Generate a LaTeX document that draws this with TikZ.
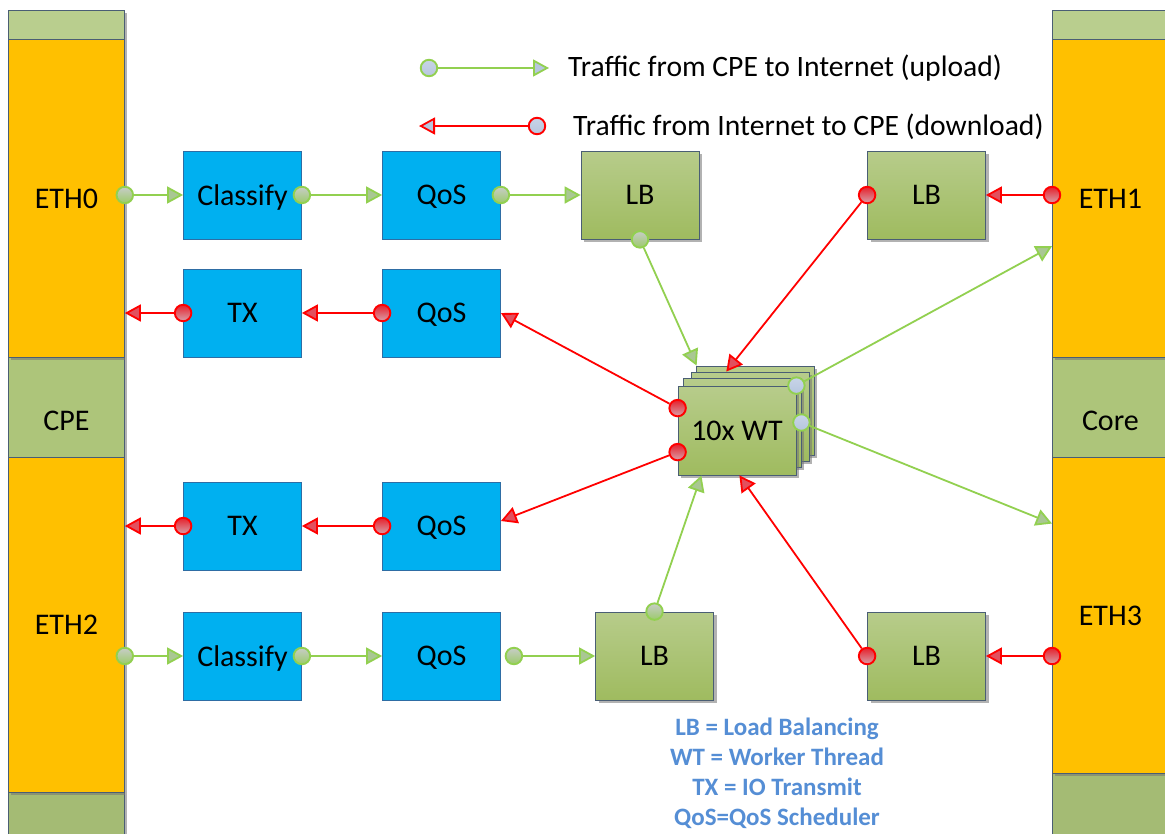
\documentclass[tikz,border=0pt]{standalone}
\usepackage{fontspec}
\setmainfont{Carlito}
\usetikzlibrary{arrows.meta,shadows,calc}

\definecolor{ethorange}{HTML}{FFC000}
\definecolor{colgreen}{HTML}{ADC57A}
\definecolor{boxedge}{HTML}{4A5E74}
\definecolor{procblue}{HTML}{00B0F0}
\definecolor{procedge}{HTML}{2E6DA4}
\definecolor{upgreen}{HTML}{92D050}
\definecolor{uptip}{HTML}{A9C793}
\definecolor{dntip}{HTML}{E2505E}
\definecolor{dotblue}{HTML}{B6C6DE}
\definecolor{notecol}{HTML}{558ED5}

\tikzset{
  shade/.style={drop shadow={shadow xshift=3pt,shadow yshift=-3pt,fill=black!55,opacity=0.55}},
  colbox/.style={draw=boxedge,line width=0.8pt,inner sep=0,anchor=north west,
    minimum width=116pt,font=\fontsize{30}{32}\selectfont,shade},
  procbox/.style={draw=procedge,line width=0.8pt,fill=procblue,inner sep=0,text depth=0pt,
    minimum width=118pt,minimum height=88pt,font=\fontsize{30}{32}\selectfont},
  lbbox/.style={draw=boxedge,line width=0.8pt,inner sep=0,text depth=0pt,
    top color={rgb,255:red,183;green,204;blue,139},bottom color={rgb,255:red,159;green,187;blue,95},
    minimum width=118pt,minimum height=88pt,font=\fontsize{30}{32}\selectfont,shade},
  updot/.style={circle,inner sep=0,minimum size=16.5pt,line width=1.9pt,draw=upgreen,
    top color={rgb,255:red,200;green,204;blue,200},bottom color={rgb,255:red,155;green,203;blue,106}},
  bgdot/.style={circle,inner sep=0,minimum size=16.5pt,line width=1.9pt,draw=upgreen,
    top color={rgb,255:red,200;green,212;blue,232},bottom color=dotblue},
  dndot/.style={circle,inner sep=0,minimum size=16.5pt,line width=1.9pt,draw=red,
    top color={rgb,255:red,230;green,32;blue,43},bottom color={rgb,255:red,216;green,162;blue,172}},
  lrdot/.style={circle,inner sep=0,minimum size=16.5pt,line width=1.9pt,draw=red,
    top color={rgb,255:red,200;green,212;blue,232},bottom color=dotblue},
  up/.style={draw=upgreen,line width=1.8pt,-{Triangle[length=16pt,width=17pt,fill=uptip]}},
  dn/.style={draw=red,line width=1.8pt,-{Triangle[length=16pt,width=17pt,fill=dntip]}},
  lup/.style={draw=upgreen,line width=1.8pt,-{Triangle[length=16pt,width=17pt,fill=dotblue]}},
  ldn/.style={draw=red,line width=1.8pt,-{Triangle[length=16pt,width=17pt,fill=dotblue]}},
}

\begin{document}
\begin{tikzpicture}[x=1pt,y=-1pt]
\useasboundingbox[fill=white] (0,0) rectangle (1165,833);

% ---- interface columns: green sections first, orange on top of them
\node[colbox,fill=colgreen!85!white,minimum height=29pt] (ltop) at (8,10) {};
\node[colbox,fill=colgreen,minimum height=100pt] (cpe) at (8,357) {\raisebox{-22.6pt}[0pt][0pt]{CPE}};
\node[colbox,fill=colgreen!95!black,minimum height=60pt] (lbot) at (8,792) {};
\node[colbox,fill=colgreen!85!white,minimum width=120pt,minimum height=29pt] (rtop) at (1052,10) {};
\node[colbox,fill=colgreen,minimum width=120pt,minimum height=100pt] (core) at (1052,357) {\hspace*{-4pt}\raisebox{-22.6pt}[0pt][0pt]{Core}};
\node[colbox,fill=colgreen!95!black,minimum width=120pt,minimum height=80pt] (rbot) at (1052,773) {};

\node[colbox,fill=ethorange,minimum height=318pt] (eth0) at (8,39) {ETH0};
\node[colbox,fill=ethorange,minimum height=335pt] (eth2) at (8,457) {ETH2};
\node[colbox,fill=ethorange,minimum width=120pt,minimum height=318pt] (eth1) at (1052,39) {\hspace*{-4pt}ETH1};
\node[colbox,fill=ethorange,minimum width=120pt,minimum height=316pt] (eth3) at (1052,457) {\hspace*{-4pt}ETH3};

% ---- processing blocks
\node[procbox] (cls1) at (242.5,195) {Classify};
\node[procbox] (qos1) at (441.5,195) {QoS};
\node[procbox] (tx1)  at (242.5,313) {TX};
\node[procbox] (qos2) at (441.5,313) {QoS};
\node[procbox] (tx2)  at (242.5,526) {TX};
\node[procbox] (qos3) at (441.5,526) {QoS};
\node[procbox] (cls2) at (242.5,656) {Classify};
\node[procbox] (qos4) at (441.5,656) {QoS};

\node[lbbox] (lb1) at (640,195) {LB};
\node[lbbox] (lb2) at (926.5,195) {LB};
\node[lbbox] (lb3) at (654.5,656) {LB};
\node[lbbox] (lb4) at (926.5,656) {LB};

% ---- stack of worker threads
\node[lbbox,minimum height=89pt] (wt3) at (755,410.5) {};
\node[lbbox,minimum height=89pt] (wt2) at (750,416.5) {};
\node[lbbox,minimum height=89pt] (wt1) at (742,422.5) {};
\node[lbbox,minimum height=89pt] (wt)  at (737,430.5) {10x WT};

% ---- connection points
\node[updot] (g1) at (eth0.east |- cls1) {};
\node[updot] (g2) at (cls1.east) {};
\node[updot] (g3) at (qos1.east) {};
\node[updot] (g4) at (lb1.south) {};
\node[bgdot] (g5) at (wt.north east) {};
\node[bgdot] (g6) at (wt1.east) {};
\node[updot] (g7) at (lb3.north) {};
\node[updot] (g8) at (eth2.east |- cls2) {};
\node[updot] (g9) at (cls2.east) {};
\node[updot] (g10) at ($(qos4.east)+(13,0)$) {};

\node[dndot] (r1) at (eth1.west |- lb2) {};
\node[dndot] (r2) at (lb2.west) {};
\node[dndot] (r3) at ($(wt.north west)!0.25!(wt.south west)$) {};
\node[dndot] (r4) at ($(wt.north west)!0.74!(wt.south west)$) {};
\node[dndot] (r5) at (qos2.west) {};
\node[dndot] (r6) at (tx1.west) {};
\node[dndot] (r7) at (qos3.west) {};
\node[dndot] (r8) at (tx2.west) {};
\node[dndot] (r9) at (eth3.west |- lb4) {};
\node[dndot] (r10) at (lb4.west) {};

% ---- upload traffic
\draw[up] (g1) -- (cls1.west);
\draw[up] (g2) -- (qos1.west);
\draw[up] (g3) -- (lb1.west);
\draw[up] (g4) -- ($(wt3.north west)+(1,0)$);
\draw[up] (g5) -- ($(eth1.north west)!0.65!(eth1.south west)$);
\draw[up] (g6) -- ($(eth3.north west)!0.21!(eth3.south west)$);
\draw[up] (g7) -- ($(wt.south west)!0.2!(wt.south east)$);
\draw[up] (g8) -- (cls2.west);
\draw[up] (g9) -- (qos4.west);
\draw[up] (g10) -- (lb3.west);

% ---- download traffic
\draw[dn] (r1) -- (lb2.east);
\draw[dn] (r2) -- ($(wt2.north west)!0.3!(wt2.north east)$);
\draw[dn] (r3) -- (qos2.east);
\draw[dn] (r4) -- ($(qos3.east)+(0,-5)$);
\draw[dn] (r5) -- (tx1.east);
\draw[dn] (r6) -- (eth0.east |- tx1);
\draw[dn] (r7) -- (tx2.east);
\draw[dn] (r8) -- (eth2.east |- tx2);
\draw[dn] (r9) -- (lb4.east);
\draw[dn] (r10) -- ($(wt.south west)!0.52!(wt.south east)$);

% ---- legend
\node[bgdot] (lg) at (429,68) {};
\coordinate (lgt) at (549,68);
\draw[lup] (lg) -- (lgt);
\node[anchor=west,font=\fontsize{29.6}{32}\selectfont,inner sep=0] (lgtext) at (568,68) {Traffic from CPE to Internet (upload)};
\node[lrdot] (lr) at (537,126) {};
\coordinate (lrt) at (419,126);
\draw[ldn] (lr) -- (lrt);
\node[anchor=west,font=\fontsize{29.6}{32}\selectfont,inner sep=0] (lrtext) at (573,127) {Traffic from Internet to CPE (download)};

% ---- abbreviations
\node[align=center,text=notecol,font=\bfseries\fontsize{25}{30}\selectfont,inner sep=0] (note) at (777,773)
  {LB = Load Balancing\\WT = Worker Thread\\TX = IO Transmit\\QoS=QoS Scheduler};
\end{tikzpicture}
\end{document}
